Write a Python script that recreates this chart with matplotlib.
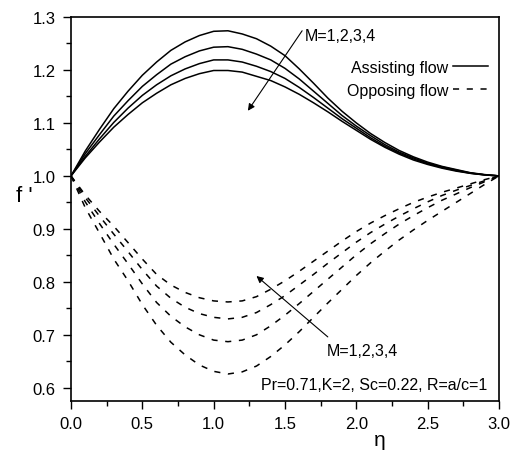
import matplotlib
matplotlib.use("Agg")
import matplotlib.pyplot as plt
from matplotlib.lines import Line2D
from matplotlib.ticker import MultipleLocator

plt.rcParams["font.family"] = ["Liberation Sans", "DejaVu Sans"]

# similarity variable
eta = [0.0, 0.1, 0.2, 0.3, 0.4, 0.5, 0.6, 0.7, 0.8, 0.9, 1.0,
       1.1, 1.2, 1.3, 1.4, 1.5, 1.6, 1.7, 1.8, 1.9, 2.0,
       2.1, 2.2, 2.3, 2.4, 2.5, 2.6, 2.7, 2.8, 2.9, 3.0]

# f' profiles, assisting flow, M = 1..4
assist_m1 = [1.0, 1.047, 1.088, 1.127, 1.160, 1.190, 1.215, 1.237, 1.253, 1.265, 1.273,
             1.274, 1.268, 1.259, 1.245, 1.227, 1.202, 1.175, 1.147, 1.122, 1.100,
             1.080, 1.063, 1.048, 1.036, 1.026, 1.018, 1.012, 1.006, 1.0025, 1.0]
assist_m2 = [1.0, 1.042, 1.078, 1.113, 1.142, 1.169, 1.191, 1.211, 1.225, 1.236, 1.243,
             1.244, 1.239, 1.230, 1.219, 1.203, 1.183, 1.160, 1.137, 1.114, 1.094,
             1.076, 1.059, 1.045, 1.034, 1.024, 1.017, 1.011, 1.0055, 1.002, 1.0]
assist_m3 = [1.0, 1.037, 1.070, 1.101, 1.128, 1.152, 1.172, 1.189, 1.202, 1.212, 1.219,
             1.219, 1.215, 1.207, 1.197, 1.184, 1.167, 1.148, 1.128, 1.108, 1.090,
             1.072, 1.056, 1.043, 1.032, 1.023, 1.016, 1.010, 1.005, 1.002, 1.0]
assist_m4 = [1.0, 1.034, 1.064, 1.092, 1.116, 1.138, 1.156, 1.172, 1.184, 1.193, 1.199,
             1.199, 1.196, 1.188, 1.180, 1.168, 1.154, 1.138, 1.121, 1.103, 1.086,
             1.069, 1.054, 1.041, 1.030, 1.0216, 1.0146, 1.009, 1.0048, 1.0018, 1.0]

# f' profiles, opposing flow, M = 1..4
oppose_m1 = [1.0, 0.964, 0.933, 0.905, 0.874, 0.843, 0.814, 0.794, 0.780, 0.770, 0.764,
             0.762, 0.764, 0.772, 0.786, 0.802, 0.820, 0.839, 0.858, 0.877, 0.895,
             0.911, 0.925, 0.938, 0.950, 0.960, 0.969, 0.977, 0.985, 0.993, 1.0]
oppose_m2 = [1.0, 0.959, 0.924, 0.890, 0.857, 0.823, 0.792, 0.769, 0.752, 0.740, 0.733,
             0.730, 0.733, 0.742, 0.757, 0.774, 0.794, 0.814, 0.835, 0.855, 0.875,
             0.893, 0.909, 0.924, 0.938, 0.951, 0.963, 0.973, 0.982, 0.991, 1.0]
oppose_m3 = [1.0, 0.951, 0.910, 0.871, 0.834, 0.796, 0.761, 0.735, 0.715, 0.700, 0.690,
             0.687, 0.690, 0.700, 0.717, 0.737, 0.759, 0.782, 0.805, 0.828, 0.851,
             0.872, 0.891, 0.909, 0.925, 0.940, 0.954, 0.966, 0.978, 0.989, 1.0]
oppose_m4 = [1.0, 0.940, 0.892, 0.843, 0.802, 0.757, 0.718, 0.686, 0.662, 0.643, 0.631,
             0.626, 0.630, 0.641, 0.659, 0.681, 0.706, 0.733, 0.760, 0.786, 0.812,
             0.836, 0.858, 0.879, 0.898, 0.916, 0.933, 0.950, 0.967, 0.984, 1.0]

assisting = [assist_m1, assist_m2, assist_m3, assist_m4]
opposing = [oppose_m1, oppose_m2, oppose_m3, oppose_m4]

dash = (0, (4, 5))

fig = plt.figure(figsize=(5.19, 4.64), dpi=100)
ax = fig.add_axes([0.1368, 0.1336, 0.8247, 0.8276])

for f in assisting:
    ax.plot(eta, f, color="black", lw=1.1)
for f in opposing:
    ax.plot(eta, f, color="black", lw=1.1, linestyle=dash)

ax.set_xlim(0.0, 3.0)
ax.set_ylim(0.575, 1.3)
ax.xaxis.set_major_locator(MultipleLocator(0.5))
ax.xaxis.set_minor_locator(MultipleLocator(0.25))
ax.yaxis.set_major_locator(MultipleLocator(0.1))
ax.yaxis.set_minor_locator(MultipleLocator(0.05))
ax.xaxis.set_major_formatter(plt.FormatStrFormatter("%.1f"))
ax.yaxis.set_major_formatter(plt.FormatStrFormatter("%.1f"))
ax.tick_params(which="both", direction="out", top=False, right=False,
               labelsize=12, width=1.0, color="black")
ax.tick_params(which="major", length=6, pad=5)
ax.tick_params(which="minor", length=3.5)
for sp in ax.spines.values():
    sp.set_linewidth(1.2)

ax.set_xlabel("η", fontsize=15)
ax.xaxis.set_label_coords(0.722, -0.075)
ax.set_ylabel("f '", fontsize=16, rotation=0, ha="center", va="center")
ax.yaxis.set_label_coords(-0.11, 0.536)

# annotations
arrow = dict(arrowstyle="-|>", color="black", lw=0.8, mutation_scale=10,
             shrinkA=0, shrinkB=0)
ax.annotate("", xy=(1.24, 1.123), xytext=(1.62, 1.274), arrowprops=arrow)
ax.text(1.64, 1.266, "M=1,2,3,4", fontsize=11.5, ha="left", va="center")
ax.annotate("", xy=(1.30, 0.811), xytext=(1.80, 0.696), arrowprops=arrow)
ax.text(1.795, 0.671, "M=1,2,3,4", fontsize=11.5, ha="left", va="center")
ax.text(2.916, 0.606, "Pr=0.71,K=2, Sc=0.22, R=a/c=1", fontsize=11.5,
        ha="right", va="center")

handles = [Line2D([], [], color="black", lw=1.1),
           Line2D([], [], color="black", lw=1.1, linestyle=dash)]
ax.legend(handles, ["Assisting flow", "Opposing flow"], loc="upper right",
          bbox_to_anchor=(0.975, 0.889), frameon=False, markerfirst=False,
          fontsize=11.5, handlelength=2.2, handletextpad=0.3,
          labelspacing=0.5, borderpad=0, borderaxespad=0)

fig.savefig("out.png", dpi=100)
plt.close(fig)
